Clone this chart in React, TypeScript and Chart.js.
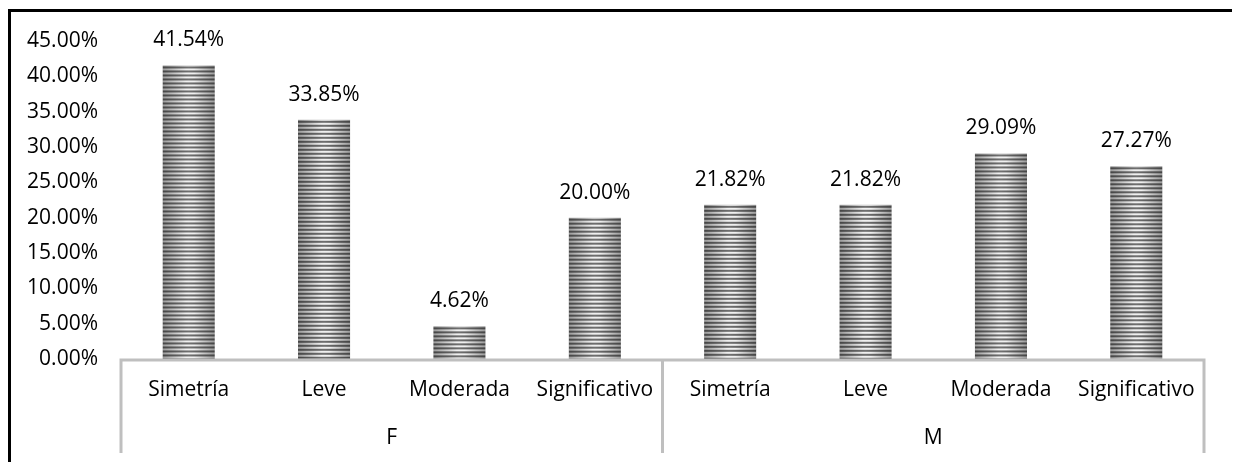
import { useEffect, useRef } from "react";
import { Chart, registerables } from "chart.js";

Chart.register(...registerables);

// Two groups, each holding the same four asymmetry categories
const groups = ["F", "M"];
const categories = [
  "Simetría", "Leve", "Moderada", "Significativo",
  "Simetría", "Leve", "Moderada", "Significativo",
];
const values = [41.54, 33.85, 4.62, 20.0, 21.82, 21.82, 29.09, 27.27];
const yMax = 45;
const yStep = 5;

const FONT = "'Open Sans', 'Noto Sans', sans-serif";
const FONT_SIZE = 21;
const AXIS_GREY = "#bfbfbf";

const pct = (v: number) => v.toFixed(2) + "%";

// Horizontal-striped fill with a soft cylindrical shading across each bar
const stripedBars = {
  id: "stripedBars",
  afterDatasetsDraw(chart: any) {
    const ctx = chart.ctx as CanvasRenderingContext2D;
    const meta = chart.getDatasetMeta(0);
    meta.data.forEach((bar: any, i: number) => {
      const { x, y, base, width } = bar.getProps(["x", "y", "base", "width"], true);
      const left = x - width / 2;
      const top = Math.min(y, base);
      const h = Math.abs(base - y);
      ctx.save();
      ctx.beginPath();
      ctx.rect(left, top, width, h);
      ctx.clip();
      const light = ctx.createLinearGradient(left, 0, left + width, 0);
      light.addColorStop(0, "#9a9a9a");
      light.addColorStop(0.45, "#efefef");
      light.addColorStop(0.6, "#efefef");
      light.addColorStop(1, "#9a9a9a");
      ctx.fillStyle = light;
      ctx.fillRect(left, top, width, h);
      const dark = ctx.createLinearGradient(left, 0, left + width, 0);
      dark.addColorStop(0, "#454545");
      dark.addColorStop(0.5, "#707070");
      dark.addColorStop(1, "#454545");
      ctx.fillStyle = dark;
      for (let s = top + 1; s < top + h; s += 4) {
        ctx.fillRect(left, s, width, 2);
      }
      ctx.restore();

      // value label above the bar
      ctx.save();
      ctx.fillStyle = "#000";
      ctx.font = `${FONT_SIZE}px ${FONT}`;
      ctx.textAlign = "center";
      ctx.textBaseline = "middle";
      ctx.fillText(pct(values[i]), x, top - 25);
      ctx.restore();
    });
  },
};

// Category axis line, group separators and group captions
const groupedAxis = {
  id: "groupedAxis",
  afterDraw(chart: any) {
    const ctx = chart.ctx as CanvasRenderingContext2D;
    const xs = chart.scales.x;
    const area = chart.chartArea;
    const axisY = area.bottom + 1;
    const lineBottom = axisY + 93;
    const groupSize = categories.length / groups.length;
    ctx.save();
    ctx.strokeStyle = AXIS_GREY;
    ctx.lineWidth = 3;
    ctx.beginPath();
    ctx.moveTo(xs.getPixelForValue(-0.5) - 1.5, axisY);
    ctx.lineTo(xs.getPixelForValue(categories.length - 0.5) + 1.5, axisY);
    for (let g = 0; g <= groups.length; g++) {
      const bx = xs.getPixelForValue(g * groupSize - 0.5);
      ctx.moveTo(bx, axisY);
      ctx.lineTo(bx, lineBottom);
    }
    ctx.stroke();
    ctx.fillStyle = "#000";
    ctx.font = `${FONT_SIZE}px ${FONT}`;
    ctx.textAlign = "center";
    ctx.textBaseline = "middle";
    groups.forEach((name, g) => {
      const cx = xs.getPixelForValue(g * groupSize + (groupSize - 1) / 2);
      ctx.fillText(name, cx, axisY + 78);
    });
    ctx.restore();
  },
};

export default function App() {
  const canvasRef = useRef<HTMLCanvasElement | null>(null);

  useEffect(() => {
    const canvas = canvasRef.current;
    if (!canvas) return;
    const chart = new Chart(canvas, {
      type: "bar",
      data: {
        labels: categories,
        datasets: [
          {
            data: values,
            backgroundColor: "#bfbfbf",
            borderWidth: 0,
            categoryPercentage: 1,
            barPercentage: 0.385,
          },
        ],
      },
      options: {
        animation: false,
        responsive: false,
        maintainAspectRatio: false,
        layout: { padding: { top: 29, right: 29, left: 0, bottom: 0 } },
        plugins: {
          legend: { display: false },
          tooltip: { enabled: false },
        },
        scales: {
          x: {
            grid: { display: false, drawTicks: false },
            border: { display: false },
            ticks: {
              color: "#000",
              padding: 18,
              maxRotation: 0,
              autoSkip: false,
              font: { family: FONT, size: FONT_SIZE },
            },
            afterFit: (scale: any) => {
              scale.height = 117;
              scale.paddingLeft = 0;
              scale.paddingRight = 0;
            },
          },
          y: {
            min: 0,
            max: yMax,
            grid: { display: false, drawTicks: false },
            border: { display: false },
            ticks: {
              stepSize: yStep,
              color: "#000",
              padding: 23,
              font: { family: FONT, size: FONT_SIZE },
              callback: (v: any) => pct(Number(v)),
            },
            afterFit: (scale: any) => {
              scale.width = 110;
              scale.paddingTop = 0;
              scale.paddingBottom = 0;
            },
          },
        },
      },
      plugins: [stripedBars, groupedAxis],
    });
    return () => chart.destroy();
  }, []);

  return (
    <div
      style={{
        position: "relative",
        marginTop: 1,
        width: 1228,
        height: 470,
        border: "3px solid #000",
        boxSizing: "border-box",
        background: "#fff",
      }}
    >
      <canvas ref={canvasRef} width={1222} height={464} style={{ display: "block" }} />
    </div>
  );
}
